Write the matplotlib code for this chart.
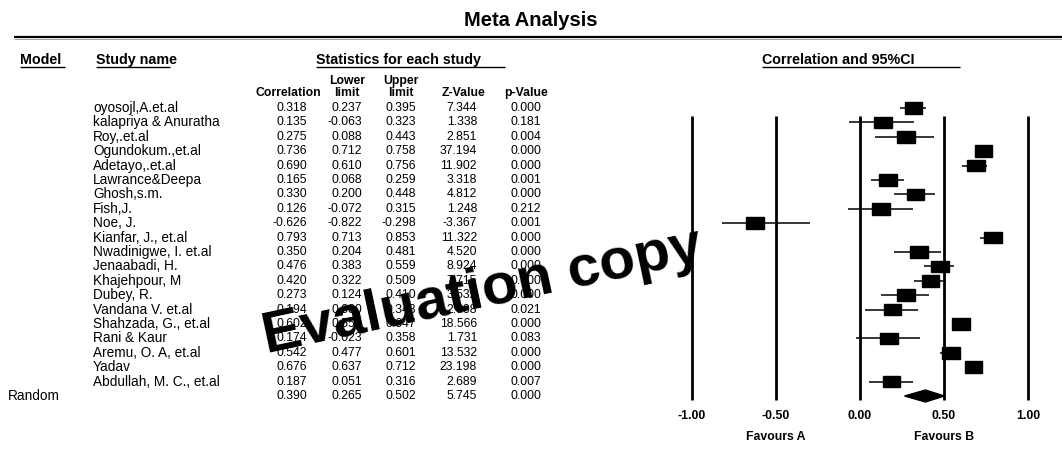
import matplotlib
matplotlib.use("Agg")
import matplotlib.pyplot as plt
from matplotlib.patches import Rectangle, Polygon
import numpy as np

plt.rcParams['font.family'] = ['Liberation Sans', 'DejaVu Sans']

# study data (values hidden by the watermark estimated)
studies = ["oyosojl,A.et.al", "kalapriya & Anuratha", "Roy,.et.al", "Ogundokum.,et.al",
           "Adetayo,.et.al", "Lawrance&Deepa", "Ghosh,s.m.", "Fish,J.", "Noe, J.",
           "Kianfar, J., et.al", "Nwadinigwe, I. et.al", "Jenaabadi, H.", "Khajehpour, M",
           "Dubey, R.", "Vandana V. et.al", "Shahzada, G., et.al", "Rani & Kaur",
           "Aremu, O. A, et.al", "Yadav", "Abdullah, M. C., et.al"]
corr = [0.318, 0.135, 0.275, 0.736, 0.690, 0.165, 0.330, 0.126, -0.626, 0.793,
        0.350, 0.476, 0.420, 0.273, 0.194, 0.602, 0.174, 0.542, 0.676, 0.187]
lower = [0.237, -0.063, 0.088, 0.712, 0.610, 0.068, 0.200, -0.072, -0.822, 0.713,
         0.204, 0.383, 0.322, 0.124, 0.030, 0.553, -0.023, 0.477, 0.637, 0.051]
upper = [0.395, 0.323, 0.443, 0.758, 0.756, 0.259, 0.448, 0.315, -0.298, 0.853,
         0.481, 0.559, 0.509, 0.410, 0.348, 0.647, 0.358, 0.601, 0.712, 0.316]
zval = [7.344, 1.338, 2.851, 37.194, 11.902, 3.318, 4.812, 1.248, -3.367, 11.322,
        4.520, 8.924, 7.715, 3.532, 2.308, 18.566, 1.731, 13.532, 23.198, 2.689]
pval = [0.000, 0.181, 0.004, 0.000, 0.000, 0.001, 0.000, 0.212, 0.001, 0.000,
        0.000, 0.000, 0.000, 0.000, 0.021, 0.000, 0.083, 0.000, 0.000, 0.007]

# pooled (random effects)
pooled = [0.390, 0.265, 0.502, 5.745, 0.000]

ticks = [-1.0, -0.5, 0.0, 0.5, 1.0]

W, H = 1062, 457
fig = plt.figure(figsize=(W / 100, H / 100), dpi=100)

# table area in pixel units
ax = fig.add_axes([0, 0, 1, 1])
ax.set_xlim(0, W)
ax.set_ylim(H, 0)
ax.axis('off')

n = len(studies)
row_y = 108 + 14.4 * np.arange(n + 1)

fs = 8.8       # numbers
fs_name = 9.8  # study names
fs_sub = 8.8   # column headers
fs_head = 10.3 # top headers

ax.text(W / 2, 20, "Meta Analysis", ha='center', va='center', fontsize=14.5,
        fontweight='bold')
ax.hlines(37, 14, W, color='black', lw=1.6)
ax.hlines(38.5, 14, W, color='#999999', lw=0.6)

def header(x, y, s, ul):
    ax.text(x, y, s, ha='left', va='center', fontsize=fs_head, fontweight='bold')
    ax.hlines(y + 6.5, ul[0], ul[1], color='black', lw=1)

header(20, 60, "Model", (20, 65))
header(96, 60, "Study name", (96, 170))
header(316, 60, "Statistics for each study", (316, 505))
header(762, 60, "Correlation and 95%CI", (762, 960))

col_right = [307, 362, 416, 477, 541]
col_mid = [288, 347, 401, 464, 526]
col_top = ["", "Lower", "Upper", "", ""]
col_bot = ["Correlation", "limit", "limit", "Z-Value", "p-Value"]
for xm, s1, s2 in zip(col_mid, col_top, col_bot):
    ax.text(xm, 81, s1, ha='center', va='center', fontsize=fs_sub, fontweight='bold')
    ax.text(xm, 93, s2, ha='center', va='center', fontsize=fs_sub, fontweight='bold')

cols = [corr, lower, upper, zval, pval]
for i in range(n):
    y = row_y[i]
    ax.text(93, y, studies[i], ha='left', va='center', fontsize=fs_name)
    for xr, c in zip(col_right, cols):
        ax.text(xr, y, f"{c[i]:.3f}", ha='right', va='center', fontsize=fs)

ax.text(8, row_y[n], "Random", ha='left', va='center', fontsize=fs_name)
for xr, v in zip(col_right, pooled):
    ax.text(xr, row_y[n], f"{v:.3f}", ha='right', va='center', fontsize=fs)

# forest plot area, x in correlation units
x0, x1 = 660, W
fa = fig.add_axes([x0 / W, 0, (x1 - x0) / W, 1])
fa.set_ylim(H, 0)
fa.set_xlim((x0 - 860) / 168, (x1 - 860) / 168)
fa.axis('off')
fa.patch.set_alpha(0)

fa.vlines(ticks, 116, 400, color='black', lw=2)
fa.hlines(row_y[:n], lower, upper, color='black', lw=1.1)
bw, bh = 0.105, 11.5
for i in range(n):
    fa.add_patch(Rectangle((corr[i] - bw / 2, row_y[i] - bh / 2), bw, bh,
                           facecolor='black', edgecolor='black', zorder=3))
yd = row_y[n]
fa.add_patch(Polygon([(pooled[1], yd), (pooled[0], yd - 6), (pooled[2], yd),
                      (pooled[0], yd + 6)], closed=True, facecolor='black',
                     edgecolor='black', zorder=3))
for t in ticks:
    fa.text(t, 416, f"{t:.2f}", ha='center', va='center', fontsize=fs_sub, fontweight='bold')
fa.text(-0.5, 437, "Favours A", ha='center', va='center', fontsize=fs_sub, fontweight='bold')
fa.text(0.5, 437, "Favours B", ha='center', va='center', fontsize=fs_sub, fontweight='bold')

# watermark
ax.text(482, 292, "Evaluation copy", ha='center', va='center', fontsize=42,
        fontweight='bold', rotation=12, color='black', zorder=10)

fig.savefig("out.png", dpi=100)
